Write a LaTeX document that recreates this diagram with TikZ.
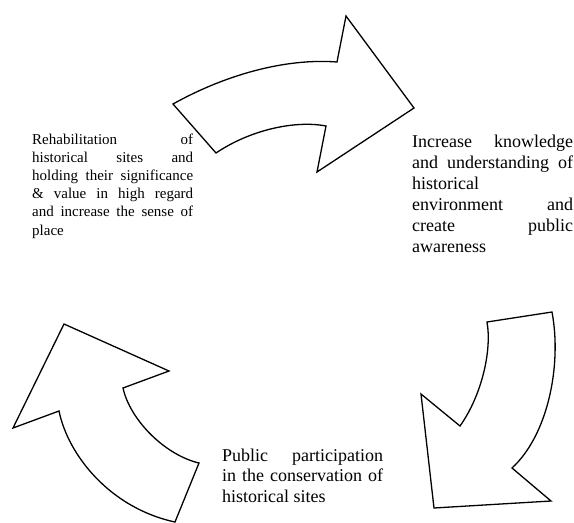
\documentclass[tikz,border=0pt]{standalone}
\usepackage{fontspec}
\setmainfont{Liberation Serif}
\newcommand{\jline}[1]{\makebox[\linewidth][s]{#1}}

\begin{document}
\begin{tikzpicture}[x=1pt,y=-1pt,
        bigarrow/.style={draw=black,line width=1.3pt,line join=miter,fill=white},
        blocktext/.style={inner sep=0pt,anchor=base west}]
    \useasboundingbox (0,0) rectangle (574,523);

    \draw[bigarrow] (173,104) .. controls (225,75) and (285,58) .. (337,62)
        -- (346,16) -- (414,108) -- (317,172) -- (326,126)
        .. controls (295,120) and (250,130) .. (216,153) -- cycle;
    \draw[bigarrow] (487,322) -- (552,312)
        .. controls (562,365) and (548,435) .. (512,468)
        -- (551,501) -- (434,508) -- (421,394) -- (460,426)
        .. controls (482,395) and (492,350) .. (487,322) -- cycle;
    \draw[bigarrow] (199,463) -- (175,522)
        .. controls (110,508) and (68,455) .. (59,411)
        -- (13,428) -- (64,324) -- (169,371) -- (123,388)
        .. controls (130,420) and (165,455) .. (199,463) -- cycle;

    \node[blocktext] (rehab) at (32,144) {\fontsize{15}{18.2}\selectfont
        \parbox[t]{161pt}{\jline{Rehabilitation of}\\
            \jline{historical sites and}\\
            \jline{holding their significance}\\
            \jline{\& value in high regard}\\
            \jline{and increase the sense of}\\
            place}};
    \node[blocktext] (knowledge) at (412,147) {\fontsize{18}{21}\selectfont
        \parbox[t]{161pt}{\jline{Increase knowledge}\\
            \jline{and understanding of}\\
            historical\\
            \jline{environment and}\\
            \jline{create public}\\
            awareness}};
    \node[blocktext] (participation) at (222,461) {\fontsize{18}{20.5}\selectfont
        \parbox[t]{161pt}{\jline{Public participation}\\
            \jline{in the conservation of}\\
            historical sites}};
\end{tikzpicture}
\end{document}
